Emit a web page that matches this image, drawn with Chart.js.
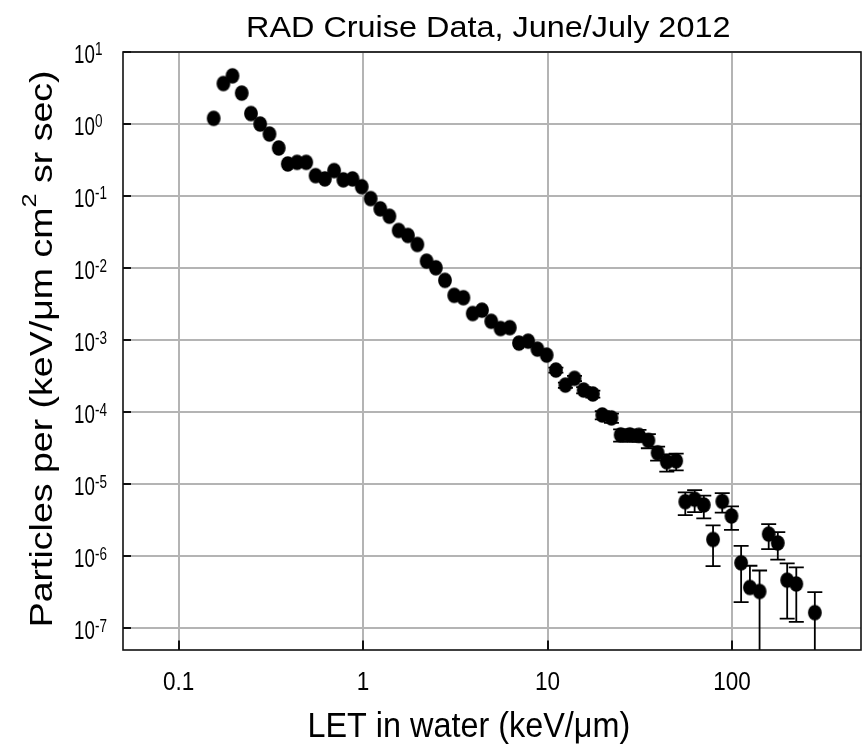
<!DOCTYPE html>
<html lang="en"><head>
<meta charset="utf-8"/>
<title>RAD Cruise Data, June/July 2012</title>
<script src="https://cdn.jsdelivr.net/npm/chart.js"></script>
<style>
        html, body { margin: 0; padding: 0; background: #fff; }
        canvas { display: block; }
    </style>
</head>
<body>
<canvas id="letChart" width="862" height="747"></canvas>
<script>
        // LET spectrum bins (keV/um) and measured flux
        const letValues = [0.155, 0.175, 0.196, 0.220, 0.247, 0.277, 0.311, 0.349, 0.391, 0.439,
            0.492, 0.553, 0.621, 0.697, 0.782, 0.877, 0.984, 1.10, 1.24, 1.39,
            1.56, 1.75, 1.97, 2.21, 2.48, 2.78, 3.12, 3.50, 3.93, 4.41,
            4.95, 5.56, 6.24, 7.00, 7.85, 8.81, 9.89, 11.1, 12.5, 14.0,
            15.7, 17.6, 19.8, 22.2, 24.9, 27.9, 31.3, 35.2, 39.5, 44.3,
            49.8, 55.8, 62.7, 70.3, 78.9, 88.5, 99.3, 112, 125, 141,
            158, 177, 199, 223, 281];
        const fluxValues = [1.20, 3.65, 4.67, 2.69, 1.40, 1.00, 0.727, 0.465, 0.279, 0.294,
            0.294, 0.192, 0.173, 0.226, 0.168, 0.173, 0.135, 0.0923, 0.0665, 0.0525,
            0.0333, 0.0284, 0.0213, 0.0125, 0.0101, 0.00676, 0.00419, 0.00388, 0.00234, 0.00261,
            0.00183, 0.00145, 0.00149, 0.00091, 0.000969, 0.000751, 0.000621, 0.000385, 0.000238, 0.000295,
            0.000203, 0.000179, 9.16e-5, 8.33e-5, 4.84e-5, 4.84e-5, 4.77e-5, 4.06e-5, 2.73e-5, 2.05e-5,
            2.11e-5, 5.72e-6, 6.20e-6, 5.15e-6, 1.71e-6, 5.78e-6, 3.63e-6, 8.11e-7, 3.69e-7, 3.25e-7,
            2.03e-6, 1.53e-6, 4.66e-7, 4.13e-7, 1.65e-7];
        // +/- error on flux (null = bar hidden under the marker)
        const fluxErrors = [null, null, null, null, null, null, null, null, null, null,
            null, null, null, null, null, null, null, null, null, null,
            null, null, null, null, null, null, null, null, null, null,
            null, null, null, null, null, null, null, 3e-5, 2e-5, 2.5e-5,
            2e-5, 2e-5, 1.2e-5, 1.2e-5, 0.93e-5, 0.93e-5, 0.9e-5, 0.9e-5, 0.6e-5, 0.55e-5,
            0.55e-5, 2.0e-6, 2.1e-6, 1.8e-6, 0.98e-6, 1.74e-6, 1.3e-6, 5.8e-7, 3.7e-7, 3.1e-7,
            7.7e-7, 6.3e-7, 3.3e-7, 2.9e-7, 1.53e-7];

        const xTicks = [0.1, 1, 10, 100];
        const xTickLabels = ['0.1', '1', '10', '100'];
        const yTickExponents = [1, 0, -1, -2, -3, -4, -5, -6, -7];

        const FONT = '"Liberation Sans", Arial, Helvetica, sans-serif';
        const GRID = 'rgb(180,180,180)';

        // filled dot, a touch taller than wide
        function makeDot(rx, ry) {
            const c = document.createElement('canvas');
            c.width = Math.ceil(rx * 2) + 2;
            c.height = Math.ceil(ry * 2) + 2;
            const g = c.getContext('2d');
            g.fillStyle = '#000';
            g.beginPath();
            g.ellipse(c.width / 2, c.height / 2, rx, ry, 0, 0, Math.PI * 2);
            g.fill();
            return c;
        }

        function drawText(ctx, str, x, y, size, sx, align) {
            ctx.save();
            ctx.translate(x, y);
            ctx.scale(sx, 1);
            ctx.font = size + 'px ' + FONT;
            ctx.textAlign = align || 'left';
            ctx.textBaseline = 'alphabetic';
            ctx.fillStyle = '#000';
            ctx.fillText(str, 0, 0);
            ctx.restore();
        }

        const decorations = {
            id: 'decorations',
            beforeDraw(chart) {
                const ctx = chart.ctx;
                ctx.save();
                ctx.fillStyle = '#fff';
                ctx.fillRect(0, 0, chart.width, chart.height);
                ctx.restore();
            },
            afterDatasetsDraw(chart) {
                const ctx = chart.ctx;
                const area = chart.chartArea;
                const xs = chart.scales.x, ys = chart.scales.y;
                ctx.save();
                ctx.beginPath();
                ctx.rect(area.left, area.top, area.right - area.left, area.bottom - area.top);
                ctx.clip();
                ctx.strokeStyle = '#000';
                ctx.lineWidth = 1.8;
                const cap = 7.5;
                fluxErrors.forEach((e, i) => {
                    if (e == null) return;
                    const px = xs.getPixelForValue(letValues[i]);
                    const py = ys.getPixelForValue(fluxValues[i]);
                    const top = ys.getPixelForValue(fluxValues[i] + e);
                    ctx.beginPath();
                    ctx.moveTo(px, py);
                    ctx.lineTo(px, top);
                    ctx.moveTo(px - cap, top);
                    ctx.lineTo(px + cap, top);
                    const low = fluxValues[i] - e;
                    if (low > 0) {
                        const bot = ys.getPixelForValue(low);
                        ctx.moveTo(px, py);
                        ctx.lineTo(px, bot);
                        ctx.moveTo(px - cap, bot);
                        ctx.lineTo(px + cap, bot);
                    }
                    ctx.stroke();
                });
                ctx.restore();
            },
            afterDraw(chart) {
                const ctx = chart.ctx;
                const area = chart.chartArea;
                const xs = chart.scales.x, ys = chart.scales.y;
                ctx.save();
                // frame
                ctx.strokeStyle = '#111';
                ctx.lineWidth = 1.6;
                ctx.strokeRect(area.left, area.top, area.right - area.left, area.bottom - area.top);
                // inward tick marks
                ctx.lineWidth = 2;
                ctx.beginPath();
                xTicks.forEach(v => {
                    const px = Math.round(xs.getPixelForValue(v));
                    ctx.moveTo(px, area.bottom);
                    ctx.lineTo(px, area.bottom - 9.5);
                });
                yTickExponents.forEach(p => {
                    const py = Math.round(ys.getPixelForValue(Math.pow(10, p)));
                    ctx.moveTo(area.left, py);
                    ctx.lineTo(area.left + 8, py);
                });
                ctx.stroke();
                ctx.restore();

                // x tick labels
                xTicks.forEach((v, i) => {
                    drawText(ctx, xTickLabels[i], xs.getPixelForValue(v), area.bottom + 40, 25, 0.9, 'center');
                });
                // y tick labels, 10 with raised exponent
                yTickExponents.forEach(p => {
                    const py = ys.getPixelForValue(Math.pow(10, p));
                    drawText(ctx, '10', 74, py + 10.5, 25, 0.75, 'left');
                    drawText(ctx, p < 0 ? '-' + (-p) : String(p), 95, py + 3.4, 18, 0.75, 'left');
                });

                // chart title and x axis title
                drawText(ctx, 'RAD Cruise Data, June/July 2012', 246, 36.7, 30, 1.08, 'left');
                drawText(ctx, 'LET in water (keV/\u03bcm)', 307.5, 736.7, 35, 0.925, 'left');

                // y axis title with cm squared
                ctx.save();
                ctx.translate(51.7, 627.3);
                ctx.rotate(-Math.PI / 2);
                ctx.scale(1.21, 1);
                ctx.fillStyle = '#000';
                ctx.textBaseline = 'alphabetic';
                ctx.textAlign = 'left';
                ctx.font = '31px ' + FONT;
                const partA = 'Particles per (keV/\u03bcm cm';
                const partC = ' sr sec)';
                ctx.fillText(partA, 0, 0);
                let off = ctx.measureText(partA).width;
                ctx.font = '21px ' + FONT;
                ctx.fillText('2', off, -16);
                off += ctx.measureText('2').width;
                ctx.font = '31px ' + FONT;
                ctx.fillText(partC, off, 0);
                ctx.restore();
            }
        };

        const points = letValues.map((v, i) => ({ x: v, y: fluxValues[i] }));

        new Chart(document.getElementById('letChart').getContext('2d'), {
            type: 'scatter',
            data: {
                datasets: [{
                    label: 'RAD',
                    data: points,
                    pointStyle: makeDot(6.9, 7.7),
                    pointRadius: 7,
                    backgroundColor: '#000',
                    borderColor: '#000'
                }]
            },
            options: {
                responsive: false,
                animation: false,
                layout: {
                    autoPadding: false,
                    padding: { left: 123, top: 52, right: 1, bottom: 97 }
                },
                scales: {
                    x: {
                        type: 'logarithmic',
                        min: 0.05,
                        max: 500,
                        afterBuildTicks: (scale) => {
                            scale.ticks = xTicks.map(v => ({ value: v }));
                        },
                        ticks: { display: false },
                        grid: { color: GRID, lineWidth: 2, drawTicks: false },
                        border: { display: false },
                        title: { display: false }
                    },
                    y: {
                        type: 'logarithmic',
                        min: 5e-8,
                        max: 10,
                        afterBuildTicks: (scale) => {
                            scale.ticks = yTickExponents.map(p => ({ value: Math.pow(10, p) }));
                        },
                        ticks: { display: false },
                        grid: { color: GRID, lineWidth: 2, drawTicks: false },
                        border: { display: false },
                        title: { display: false }
                    }
                },
                plugins: {
                    legend: { display: false },
                    title: { display: false },
                    tooltip: { enabled: false }
                }
            },
            plugins: [decorations]
        });
    </script>
</body></html>
